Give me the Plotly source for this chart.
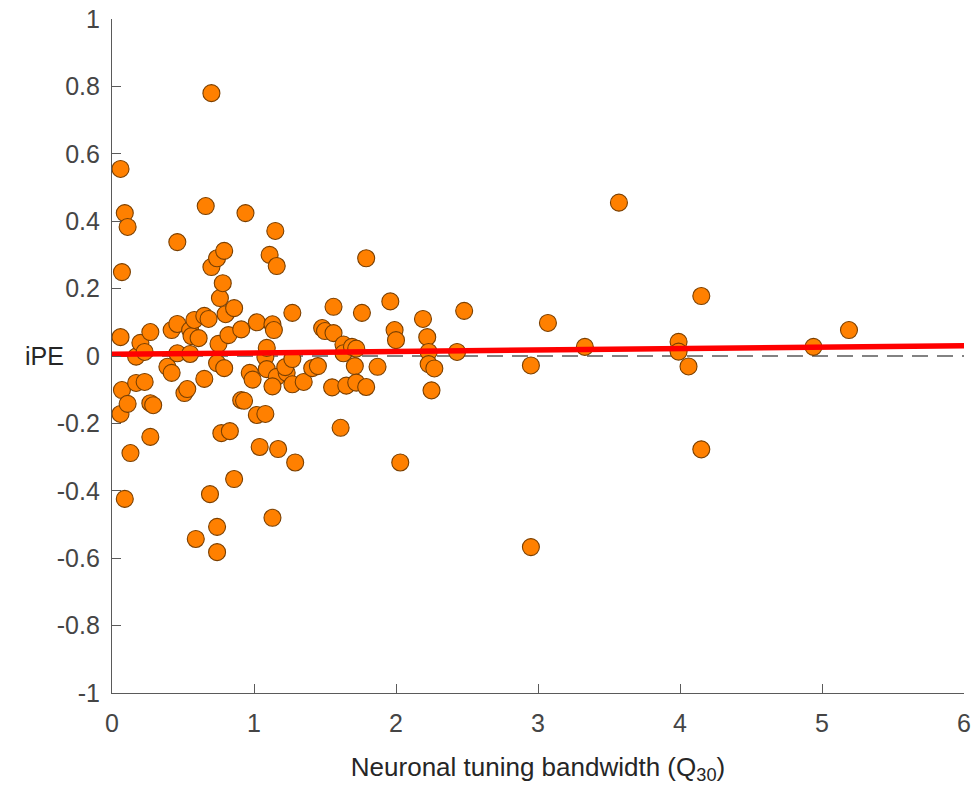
import plotly.graph_objects as go

# Tuning bandwidth (Q30) per neuron and its iPE value
q30 = [0.06, 0.09, 0.11, 0.07, 0.06, 0.07, 0.06, 0.11, 0.13, 0.09,
       0.17, 0.17, 0.20, 0.23, 0.23, 0.27, 0.27, 0.29, 0.27, 0.39,
       0.42, 0.42, 0.46, 0.46, 0.46, 0.51, 0.53, 0.55, 0.55, 0.56,
       0.61, 0.58, 0.59, 0.65, 0.65, 0.66, 0.68, 0.70, 0.69, 0.70,
       0.74, 0.74, 0.74, 0.75, 0.74, 0.77, 0.76, 0.78, 0.79, 0.80,
       0.82, 0.83, 0.86, 0.86, 0.91, 0.91, 0.94, 0.93, 0.79, 0.97,
       0.99, 1.02, 1.02, 1.04, 1.08, 1.08, 1.09, 1.09, 1.11, 1.13,
       1.14, 1.15, 1.16, 1.13, 1.16, 1.17, 1.13, 1.23, 1.22, 1.27,
       1.27, 1.27, 1.29, 1.35, 1.41, 1.45, 1.48, 1.50, 1.56, 1.56,
       1.55, 1.61, 1.63, 1.63, 1.65, 1.69, 1.72, 1.71, 1.72, 1.76,
       1.79, 1.79, 1.87, 1.96, 1.99, 2.00, 2.03, 2.19, 2.22, 2.23,
       2.23, 2.27, 2.25, 2.43, 2.48, 2.95, 2.95, 3.07, 3.33, 3.57,
       3.99, 3.99, 4.06, 4.15, 4.15, 4.94, 5.19]
ipe = [0.555, 0.424, 0.383, 0.249, 0.056, -0.101, -0.172, -0.142, -0.288, -0.424,
       -0.080, -0.002, 0.039, 0.012, -0.077, 0.071, -0.140, -0.146, -0.240, -0.032,
       -0.050, 0.077, 0.338, 0.095, 0.008, -0.110, -0.098, 0.006, 0.077, 0.059,
       0.053, 0.107, -0.543, -0.068, 0.119, 0.445, 0.110, 0.264, -0.410, 0.780,
       -0.507, -0.582, 0.290, 0.036, -0.021, -0.229, 0.172, 0.216, 0.312, 0.124,
       0.062, -0.223, 0.142, -0.365, 0.079, -0.131, 0.424, -0.133, -0.036, -0.050,
       -0.070, 0.100, -0.175, -0.270, -0.003, -0.172, -0.039, 0.024, 0.300, 0.094,
       0.077, 0.371, 0.267, -0.480, -0.062, -0.276, -0.090, -0.050, -0.033, -0.009,
       -0.084, 0.128, -0.316, -0.077, -0.036, -0.030, 0.083, 0.074, 0.068, 0.146,
       -0.093, -0.213, 0.034, 0.008, -0.088, 0.027, 0.022, -0.030, -0.079, 0.128,
       0.290, -0.092, -0.032, 0.162, 0.077, 0.047, -0.316, 0.110, 0.056, 0.012,
       -0.024, -0.037, -0.102, 0.012, 0.134, -0.028, -0.567, 0.098, 0.027, 0.455,
       0.042, 0.013, -0.031, 0.178, -0.277, 0.027, 0.077]

# Linear fit (intercept, slope) and x span it is drawn over
fit_intercept = 0.005
fit_slope = 0.0042
x_span = [0, 6]

x_ticks = [0, 1, 2, 3, 4, 5, 6]
y_ticks = [-1, -0.8, -0.6, -0.4, -0.2, 0, 0.2, 0.4, 0.6, 0.8, 1]

font_family = "Liberation Sans, Arial, Helvetica, sans-serif"
axis_color = "#5a5a5a"

fig = go.Figure()

# zero reference line
fig.add_trace(go.Scatter(
    x=x_span, y=[0, 0], mode="lines",
    line=dict(color="#595959", width=1.5, dash="16px,9px"),
    hoverinfo="skip", showlegend=False))

fig.add_trace(go.Scatter(
    x=q30, y=ipe, mode="markers",
    marker=dict(size=17, color="#ff8000",
                line=dict(color="#7a3f00", width=1.1)),
    showlegend=False))

fig.add_trace(go.Scatter(
    x=x_span, y=[fit_intercept + fit_slope * v for v in x_span],
    mode="lines", line=dict(color="#ff0000", width=5.5),
    hoverinfo="skip", showlegend=False))

tick_font = dict(family=font_family, size=25, color="#454545")

fig.update_layout(
    width=972, height=785,
    margin=dict(l=112, r=8, t=19, b=92),
    plot_bgcolor="white", paper_bgcolor="white",
    xaxis=dict(
        range=[0, 6], tickvals=x_ticks, ticktext=[str(v) for v in x_ticks],
        ticks="inside", ticklen=9, tickcolor=axis_color, tickwidth=1.2,
        showline=True, linecolor=axis_color, linewidth=1.2,
        showgrid=False, zeroline=False, tickfont=tick_font,
        ticklabelstandoff=8, automargin=False,
        title=dict(text="Neuronal tuning bandwidth (Q<sub>30</sub>)",
                   font=dict(family=font_family, size=26, color="#262626"),
                   standoff=22),
    ),
    yaxis=dict(
        range=[-1, 1], tickvals=y_ticks,
        ticktext=[("%g" % v) for v in y_ticks],
        ticks="inside", ticklen=9, tickcolor=axis_color, tickwidth=1.2,
        showline=True, linecolor=axis_color, linewidth=1.2,
        showgrid=False, zeroline=False, tickfont=tick_font,
        ticklabelstandoff=6, automargin=False,
    ),
    annotations=[dict(
        text="iPE", xref="paper", yref="y", x=0, y=0,
        xanchor="right", yanchor="middle", xshift=-46, showarrow=False,
        font=dict(family=font_family, size=25, color="#262626"))],
)

fig.write_html("out.html")
